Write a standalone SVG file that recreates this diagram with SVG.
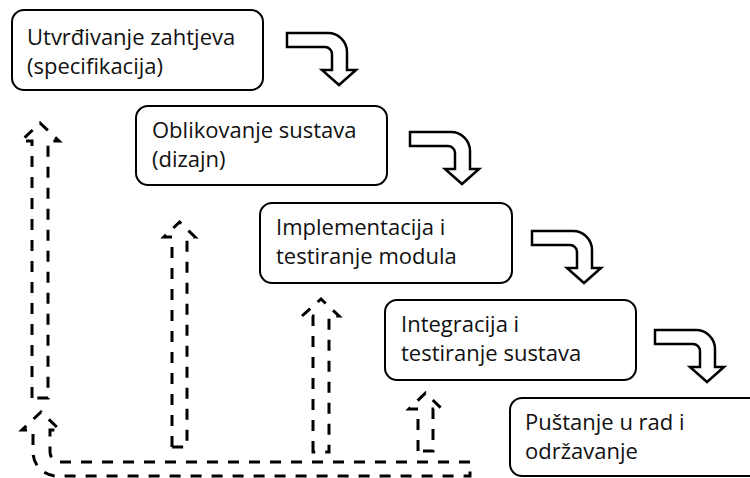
<svg xmlns="http://www.w3.org/2000/svg" width="750" height="478" viewBox="0 0 750 478">
<style>
.box{fill:#fff;stroke:#000;stroke-width:2}
.lbl{font-family:"Open Sans","Noto Sans",sans-serif;font-size:22px;fill:#111}
.flow{fill:#fff;stroke:#000;stroke-width:2.5;stroke-linejoin:miter}
.dash{fill:none;stroke:#000;stroke-width:3;stroke-dasharray:11 10}
</style>
<defs>
<path id="curv" d="M287,33 H328 A19,19 0 0 1 347,52 V70 H356 L339,85 L322,70 H332 V54 A7,7 0 0 0 325,47 H287 Z"/>
</defs>
<rect width="750" height="478" fill="#fff"/>
<g id="node1"><rect class="box" x="12" y="10" width="251" height="80" rx="12"/>
<text class="lbl" x="27" y="45">Utvrđivanje zahtjeva</text><text class="lbl" x="27" y="74">(specifikacija)</text></g>
<g id="node2"><rect class="box" x="136" y="106" width="251" height="79" rx="12"/>
<text class="lbl" x="152" y="138">Oblikovanje sustava</text><text class="lbl" x="152" y="167">(dizajn)</text></g>
<g id="node3"><rect class="box" x="260" y="203" width="252" height="80" rx="12"/>
<text class="lbl" x="276" y="235">Implementacija i</text><text class="lbl" x="276" y="264">testiranje modula</text></g>
<g id="node4"><rect class="box" x="385" y="300" width="251" height="80" rx="12"/>
<text class="lbl" x="401" y="332">Integracija i</text><text class="lbl" x="401" y="361">testiranje sustava</text></g>
<g id="node5"><rect class="box" x="510" y="398" width="260" height="78" rx="12"/>
<text class="lbl" x="525" y="430">Puštanje u rad i</text><text class="lbl" x="525" y="459">održavanje</text></g>
<g id="connectors">
<use href="#curv" class="flow"/>
<use href="#curv" class="flow" transform="translate(123,99)"/>
<use href="#curv" class="flow" transform="translate(245,198)"/>
<use href="#curv" class="flow" transform="translate(368,297)"/>
<path class="dash" d="M470,462 H60 A10,10 0 0 1 50,452 V430 H60 L41,412 L22,430 H33 V452 A24,24 0 0 0 57,476 H470 Z"/>
<path class="dash" d="M32,398 V141 H21 L40,123 L59,141 H48 V398 Z"/>
<path class="dash" d="M172,447 V237 H164 L179.5,222 L195,237 H187 V447 Z"/>
<path class="dash" d="M313,452 V316 H302 L321,299 L339,316 H329 V452 Z"/>
<path class="dash" d="M418,451 V409 H409 L425.5,393 L442,409 H433 V451 Z"/>
</g>
</svg>
